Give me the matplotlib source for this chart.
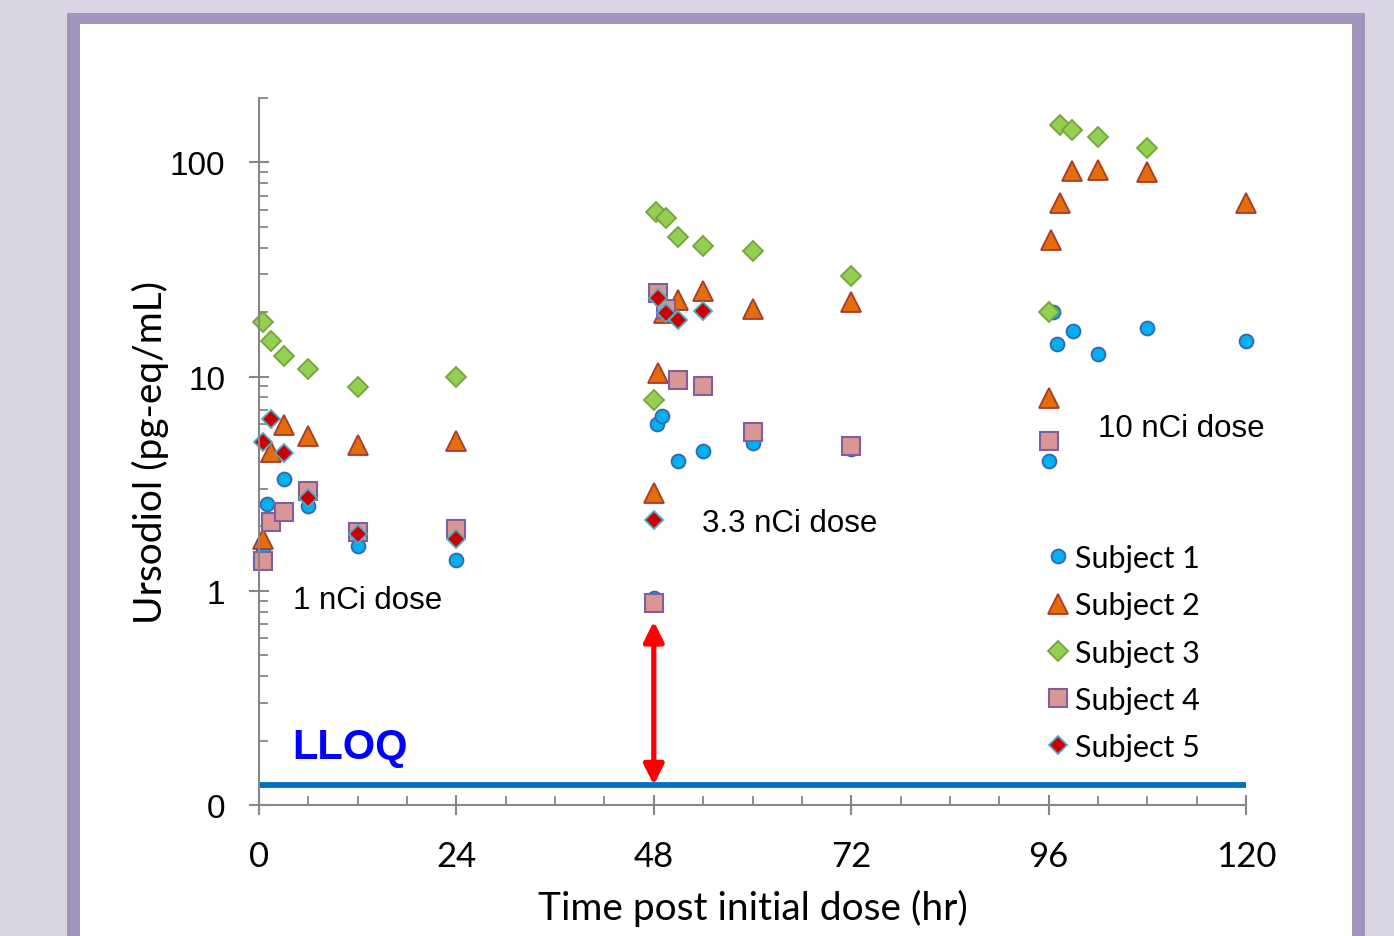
import matplotlib
matplotlib.use("Agg")
import matplotlib.pyplot as plt
from matplotlib.patches import Rectangle, FancyArrowPatch
from matplotlib.ticker import FixedLocator, LogLocator, NullFormatter

# data (hours post initial dose, pg-eq/mL)
s1_t = [0.5, 1, 3, 6, 12, 24, 48, 48.4, 49, 51, 54, 60, 72, 96, 96.5, 97, 99, 102, 108, 120]
s1_v = [1.52, 2.53, 3.34, 2.48, 1.62, 1.40, 0.93, 6.0, 6.53, 4.03, 4.49, 4.92, 4.6, 4.03, 20.0, 14.2, 16.3, 12.7, 16.8, 14.7]

s2_t = [0.5, 1.5, 3, 6, 12, 24, 48, 48.5, 49.2, 51, 54, 60, 72, 96, 96.3, 97.4, 98.9, 102, 108, 120]
s2_v = [1.74, 4.47, 5.97, 5.31, 4.82, 4.98, 2.87, 10.4, 19.8, 22.9, 25.0, 20.6, 22.2, 7.96, 43.5, 65.0, 91.2, 92.7, 90.3, 64.7]

s3_t = [0.5, 1.5, 3, 6, 12, 24, 48, 48.3, 49.5, 51, 54, 60, 72, 96, 97.4, 98.9, 102, 108]
s3_v = [18.0, 14.6, 12.5, 10.8, 8.9, 10.0, 7.76, 59.0, 54.8, 44.7, 40.8, 38.6, 29.6, 20.1, 149.6, 141.8, 131.9, 117.0]

s4_t = [0.5, 1.5, 3, 6, 12, 24, 48, 48.5, 49.5, 51, 54, 60, 72, 96]
s4_v = [1.38, 2.09, 2.33, 2.94, 1.89, 1.95, 0.88, 24.6, 20.6, 9.6, 9.07, 5.5, 4.73, 4.99]

s5_t = [0.5, 1.5, 3, 6, 12, 24, 48, 48.5, 49.5, 51, 54]
s5_v = [4.97, 6.31, 4.40, 2.72, 1.85, 1.75, 2.14, 23.2, 19.8, 18.4, 20.2]

lloq = 0.124
y_ticks = [0.1, 1, 10, 100]
y_labels = ["0", "1", "10", "100"]
x_ticks = [0, 24, 48, 72, 96, 120]

fig = plt.figure(figsize=(13.94, 9.37), dpi=100)
fig.patch.set_facecolor("#D8D4E4")
fig.patches.append(Rectangle((67 / 1394, -0.02), (1365 - 67) / 1394, 1.02 - 14 / 937,
                             transform=fig.transFigure, facecolor="#A195BE", edgecolor="none", zorder=-2))
fig.patches.append(Rectangle((80 / 1394, -0.02), (1352 - 80) / 1394, 1.02 - 25 / 937,
                             transform=fig.transFigure, facecolor="white", edgecolor="none", zorder=-1))

ax = fig.add_axes([259 / 1394, 1 - 806 / 937, (1246 - 259) / 1394, (806 - 99) / 937])
ax.patch.set_alpha(0)

ax.plot(s1_t, s1_v, "o", ms=10, mfc="#00B0F0", mec="#3467B0", mew=1.3, ls="none", label="Subject 1", clip_on=False)
ax.plot(s2_t, s2_v, "^", ms=15, mfc="#E46C0A", mec="#A83A2C", mew=1.3, ls="none", label="Subject 2", clip_on=False)
ax.plot(s3_t, s3_v, "D", ms=10, mfc="#92D050", mec="#77A33E", mew=1.3, ls="none", label="Subject 3", clip_on=False)
ax.plot(s4_t, s4_v, "s", ms=13, mfc="#D99694", mec="#7F5FA0", mew=1.5, ls="none", label="Subject 4", clip_on=False)
ax.plot(s5_t, s5_v, "D", ms=9.5, mfc="#CC0000", mec="#4BACC6", mew=1.3, ls="none", label="Subject 5", clip_on=False)

ax.plot([0, 120], [lloq, lloq], color="#0070C0", lw=4.2, solid_capstyle="butt", zorder=1)

arr = FancyArrowPatch((48, lloq), (48, 0.72), arrowstyle="<|-|>,head_length=0.6,head_width=0.3",
                      mutation_scale=20, color="#FF0000", lw=3.8, shrinkA=0, shrinkB=0, zorder=3)
ax.add_patch(arr)

ax.text(4.1, 0.91, "1 nCi dose", fontsize=22.5, family="Liberation Sans", va="center")
ax.text(53.9, 2.08, "3.3 nCi dose", fontsize=22.5, family="Liberation Sans", va="center")
ax.text(102, 5.78, "10 nCi dose", fontsize=22.5, family="Liberation Sans", va="center")
ax.text(4.1, 0.186, "LLOQ", fontsize=30, family="Liberation Sans", weight="bold", color="#0000FF", va="center")

ax.set_yscale("log")
ax.set_ylim(0.1, 200)
ax.set_xlim(0, 120)

ax.yaxis.set_major_locator(FixedLocator(y_ticks))
ax.set_yticklabels(y_labels, family="Liberation Sans", fontsize=24)
ax.yaxis.set_minor_locator(LogLocator(base=10, subs=range(2, 10)))
ax.yaxis.set_minor_formatter(NullFormatter())
ax.set_xticks(x_ticks)
ax.set_xticklabels([str(v) for v in x_ticks], family="Lato", fontsize=25)
ax.set_xticks(range(0, 121, 6), minor=True)

gray = "#878787"
for side in ["top", "right"]:
    ax.spines[side].set_visible(False)
for side in ["left", "bottom"]:
    ax.spines[side].set_color(gray)
    ax.spines[side].set_linewidth(1.5)
ax.tick_params(which="major", direction="inout", length=14.5, width=1.5, color=gray)
ax.tick_params(which="minor", direction="in", length=6.5, width=1.3, color=gray)
ax.tick_params(axis="y", which="major", pad=17)
ax.tick_params(axis="x", which="major", pad=18)

ax.set_xlabel("Time post initial dose (hr)", family="Lato", fontsize=28, labelpad=12)
ax.set_ylabel("Ursodiol (pg-eq/mL)", family="Lato", fontsize=28, labelpad=0.5)

leg = ax.legend(loc="upper left", bbox_to_anchor=(1043 / 1394, 1 - 545 / 937), bbox_transform=fig.transFigure,
                frameon=False, prop={"family": "Lato", "size": 22}, handlelength=1.0, handletextpad=0.05,
                labelspacing=0.63, borderpad=0, borderaxespad=0, numpoints=1)

fig.savefig("out.png", dpi=100, facecolor=fig.get_facecolor())
